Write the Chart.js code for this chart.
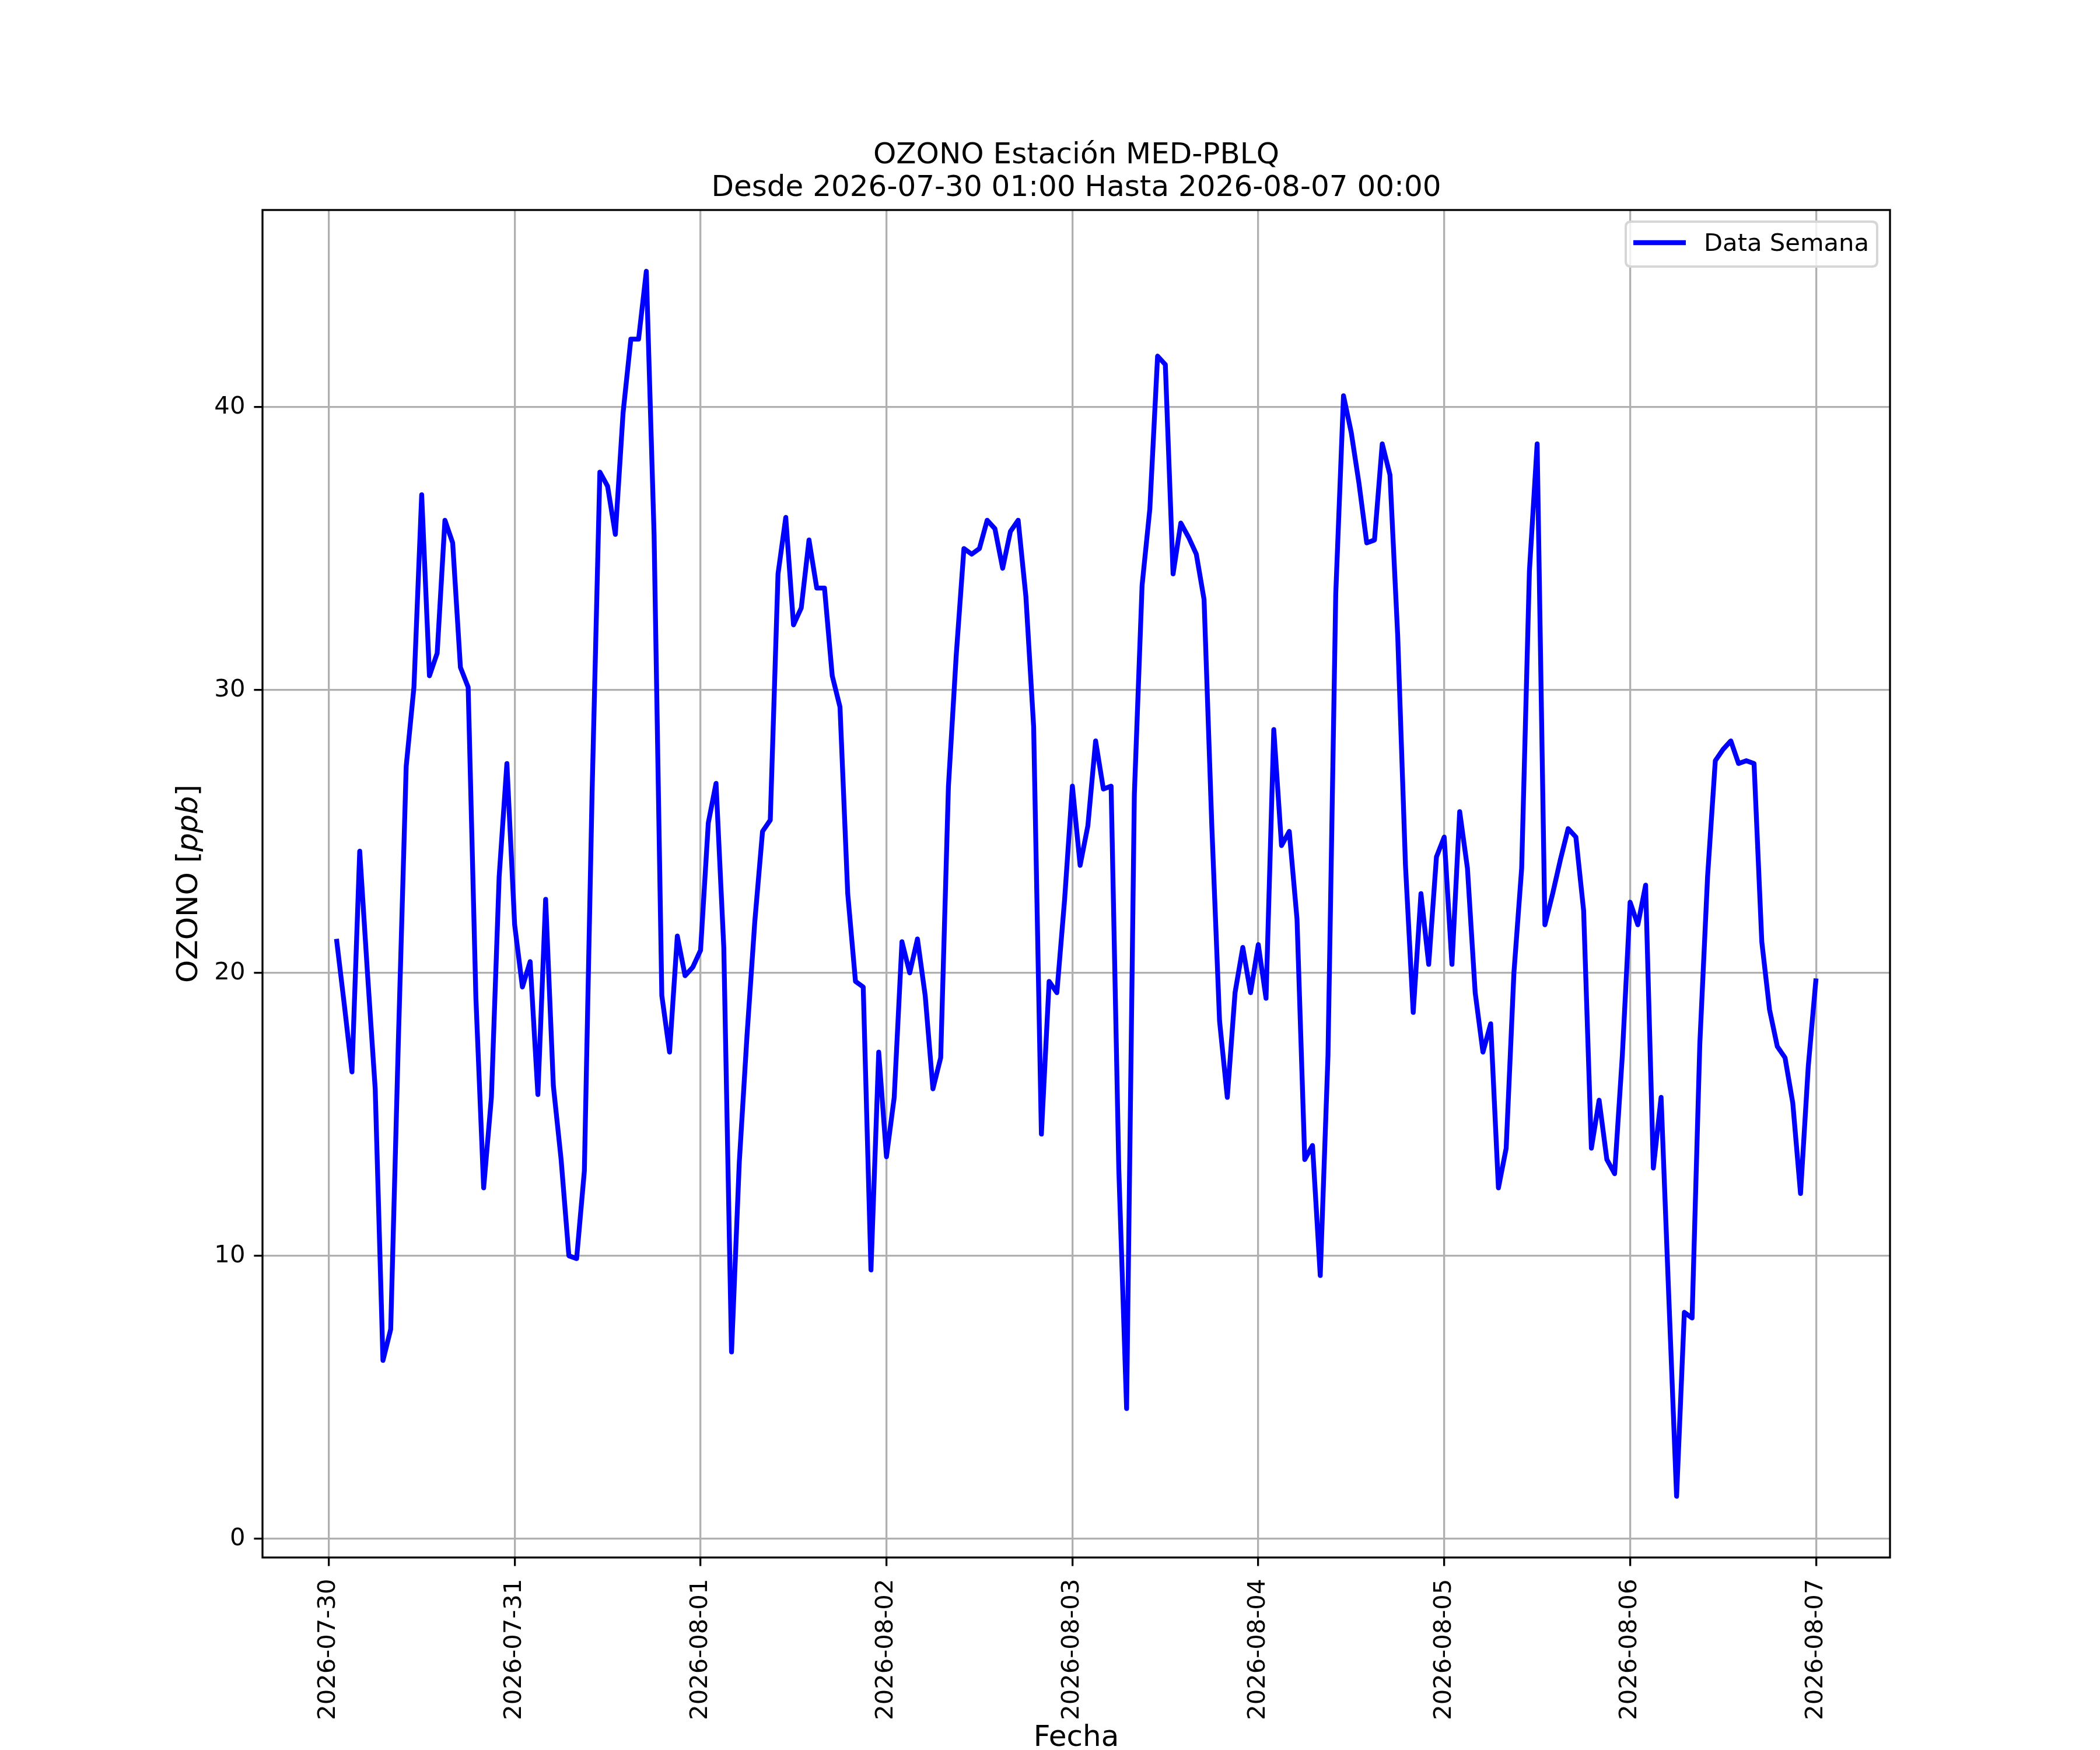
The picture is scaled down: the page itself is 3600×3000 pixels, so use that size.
<!DOCTYPE html>
<html>
<head>
<meta charset="utf-8">
<title>OZONO Estación MED-PBLQ</title>
<script src="https://cdn.jsdelivr.net/npm/chart.js@4.4.1/dist/chart.umd.min.js"></script>
<style>
  body { margin: 0; background: #ffffff; }
  canvas { display: block; }
</style>
</head>
<body>
<canvas id="chart" width="3600" height="3000" style="width:3600px;height:3000px"></canvas>
<script>
"use strict"

// hourly ozone [ppb], one array per day, 01:00 ... 24:00
const jul30 = [21.2, 18.9, 16.5, 24.3, 20.0, 15.9, 6.3, 7.4, 17.7, 27.3, 30.1, 36.9,
               30.5, 31.3, 36.0, 35.2, 30.8, 30.1, 19.1, 12.4, 15.6, 23.4, 27.4, 21.7];
const jul31 = [19.5, 20.4, 15.7, 22.6, 16.0, 13.4, 10.0, 9.9, 13.0, 26.4, 37.7, 37.2,
               35.5, 39.8, 42.4, 42.4, 44.8, 35.5, 19.2, 17.2, 21.3, 19.9, 20.2, 20.8];
const aug01 = [25.3, 26.7, 20.9, 6.6, 13.3, 17.8, 21.8, 25.0, 25.4, 34.1, 36.1, 32.3,
               32.9, 35.3, 33.6, 33.6, 30.5, 29.4, 22.8, 19.7, 19.5, 9.5, 17.2, 13.5];
const aug02 = [15.6, 21.1, 20.0, 21.2, 19.2, 15.9, 17.0, 26.6, 31.2, 35.0, 34.8, 35.0,
               36.0, 35.7, 34.3, 35.6, 36.0, 33.3, 28.7, 14.3, 19.7, 19.3, 22.6, 26.6];
const aug03 = [23.8, 25.2, 28.2, 26.5, 26.6, 13.0, 4.6, 26.3, 33.7, 36.4, 41.8, 41.5,
               34.1, 35.9, 35.4, 34.8, 33.2, 25.2, 18.3, 15.6, 19.3, 20.9, 19.3, 21.0];
const aug04 = [19.1, 28.6, 24.5, 25.0, 21.9, 13.4, 13.9, 9.3, 17.1, 33.4, 40.4, 39.1,
               37.3, 35.2, 35.3, 38.7, 37.6, 31.9, 23.8, 18.6, 22.8, 20.3, 24.1, 24.8];
const aug05 = [20.3, 25.7, 23.7, 19.3, 17.2, 18.2, 12.4, 13.8, 20.0, 23.7, 34.2, 38.7,
               21.7, 22.8, 24.0, 25.1, 24.8, 22.2, 13.8, 15.5, 13.4, 12.9, 17.1, 22.5];
const aug06 = [21.7, 23.1, 13.1, 15.6, 8.5, 1.5, 8.0, 7.8, 17.5, 23.4, 27.5, 27.9,
               28.2, 27.4, 27.5, 27.4, 21.1, 18.7, 17.4, 17.0, 15.4, 12.2, 16.7, 19.8];

const dayLabels = ["2026-07-30", "2026-07-31", "2026-08-01", "2026-08-02", "2026-08-03",
                   "2026-08-04", "2026-08-05", "2026-08-06", "2026-08-07"];
const yTicks = [0, 10, 20, 30, 40];
const seriesName = "Data Semana";
const titleLines = ["OZONO Estación MED-PBLQ", "Desde 2026-07-30 01:00 Hasta 2026-08-07 00:00"];
const xTitle = "Fecha";

const ozone = [].concat(jul30, jul31, aug01, aug02, aug03, aug04, aug05, aug06);
// x = hours since 2026-07-30 00:00
const points = ozone.map((v, i) => ({ x: i + 1, y: v }));
const dayTicks = dayLabels.map((d, i) => i * 24);

// 5% margins like matplotlib autoscale
const xPad = (ozone.length - 1) * 0.05;
const yLo = Math.min(...ozone);
const yHi = Math.max(...ozone);
const yPad = (yHi - yLo) * 0.05;

const FONT = '"DejaVu Sans", Verdana, sans-serif';
const BLUE = "#0000ff";
const LINE_W = 8.3;

// title, axis labels, frame and legend drawn like matplotlib does
const extras = {
    id: "extras",
    afterDraw(chart) {
        const ctx = chart.ctx;
        const a = chart.chartArea;
        const cx = (a.left + a.right) / 2;
        ctx.save();

        ctx.strokeStyle = "#000";
        ctx.lineWidth = 3.3;
        ctx.strokeRect(a.left, a.top, a.right - a.left, a.bottom - a.top);

        ctx.fillStyle = "#000";
        ctx.textAlign = "center";
        ctx.textBaseline = "alphabetic";
        ctx.font = "50px " + FONT;
        ctx.fillText(titleLines[0], cx, 280);
        ctx.fillText(titleLines[1], cx, 336);
        ctx.fillText(xTitle, cx, 2993);

        // y label: OZONO [ppb] with ppb in italics
        const parts = [["OZONO [", "50px "], ["ppb", "italic 50px "], ["]", "50px "]];
        let total = 0;
        parts.forEach(p => { ctx.font = p[1] + FONT; total += ctx.measureText(p[0]).width; });
        ctx.save();
        ctx.translate(338, (a.top + a.bottom) / 2);
        ctx.rotate(-Math.PI / 2);
        ctx.textAlign = "left";
        let px = -total / 2;
        parts.forEach(p => {
            ctx.font = p[1] + FONT;
            ctx.fillText(p[0], px, 0);
            px += ctx.measureText(p[0]).width;
        });
        ctx.restore();

        // legend box, upper right
        const lx = 2787, ly = 380, lw = 431, lh = 77, r = 9;
        ctx.beginPath();
        ctx.moveTo(lx + r, ly);
        ctx.lineTo(lx + lw - r, ly);
        ctx.quadraticCurveTo(lx + lw, ly, lx + lw, ly + r);
        ctx.lineTo(lx + lw, ly + lh - r);
        ctx.quadraticCurveTo(lx + lw, ly + lh, lx + lw - r, ly + lh);
        ctx.lineTo(lx + r, ly + lh);
        ctx.quadraticCurveTo(lx, ly + lh, lx, ly + lh - r);
        ctx.lineTo(lx, ly + r);
        ctx.quadraticCurveTo(lx, ly, lx + r, ly);
        ctx.closePath();
        ctx.fillStyle = "rgba(255,255,255,0.8)";
        ctx.fill();
        ctx.strokeStyle = "#d6d6d6";
        ctx.lineWidth = 4;
        ctx.stroke();

        ctx.strokeStyle = BLUE;
        ctx.lineWidth = LINE_W;
        ctx.beginPath();
        ctx.moveTo(2800, 416);
        ctx.lineTo(2890, 416);
        ctx.stroke();

        ctx.fillStyle = "#000";
        ctx.textAlign = "left";
        ctx.font = "41.7px " + FONT;
        ctx.fillText(seriesName, 2921, 430);

        ctx.restore();
    }
};

const gridOpts = {
    color: "#b0b0b0",
    lineWidth: 3.3,
    tickColor: "#000",
    tickWidth: 3.3,
    tickLength: 14.6
};

const config = {
    type: "line",
    data: {
        datasets: [{
            label: seriesName,
            data: points,
            borderColor: BLUE,
            backgroundColor: BLUE,
            borderWidth: LINE_W,
            borderJoinStyle: "round",
            pointRadius: 0,
            tension: 0,
            fill: false
        }]
    },
    options: {
        responsive: false,
        devicePixelRatio: 1,
        animation: false,
        layout: { padding: { top: 360, right: 360, left: 0, bottom: 0 } },
        plugins: {
            legend: { display: false },
            title: { display: false },
            tooltip: { enabled: false }
        },
        scales: {
            x: {
                type: "linear",
                min: 1 - xPad,
                max: ozone.length + xPad,
                grid: gridOpts,
                border: { display: false },
                afterBuildTicks: (s) => { s.ticks = dayTicks.map(v => ({ value: v })); },
                afterFit: (s) => { s.height = 330; },
                ticks: {
                    autoSkip: false,
                    minRotation: 90,
                    maxRotation: 90,
                    padding: 22,
                    color: "#000",
                    font: { family: FONT, size: 41.7 },
                    callback: (value, index) => dayLabels[index]
                }
            },
            y: {
                type: "linear",
                min: yLo - yPad,
                max: yHi + yPad,
                grid: gridOpts,
                border: { display: false },
                afterBuildTicks: (s) => { s.ticks = yTicks.map(v => ({ value: v })); },
                afterFit: (s) => { s.width = 450; },
                ticks: {
                    padding: 15,
                    color: "#000",
                    font: { family: FONT, size: 41.7 },
                    callback: (value) => String(value)
                }
            }
        }
    },
    plugins: [extras]
};

const ozoneChart = new Chart(document.getElementById("chart"), config);
</script>
</body>
</html>
